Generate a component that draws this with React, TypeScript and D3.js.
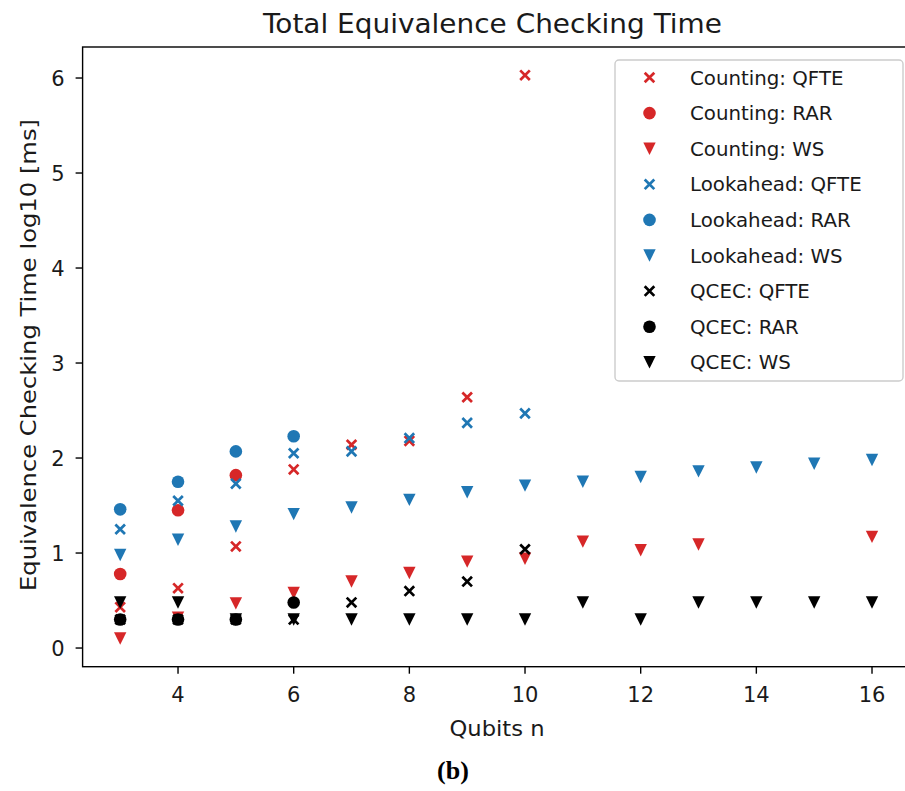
import React from "react";
import * as d3 from "d3";

// ---- data (log10 of ms) ----
const countingQFTE_n = [3, 4, 5, 6, 7, 8, 9, 10];
const countingQFTE = [0.43, 0.63, 1.07, 1.88, 2.14, 2.18, 2.64, 6.03];
const countingRAR_n = [3, 4, 5];
const countingRAR = [0.78, 1.45, 1.82];
const countingWS_n = [3, 4, 5, 6, 7, 8, 9, 10, 11, 12, 13, 16];
const countingWS = [0.1, 0.32, 0.47, 0.58, 0.7, 0.79, 0.91, 0.94, 1.12, 1.03, 1.09, 1.17];
const lookaheadQFTE_n = [3, 4, 5, 6, 7, 8, 9, 10];
const lookaheadQFTE = [1.25, 1.55, 1.73, 2.05, 2.07, 2.21, 2.37, 2.47];
const lookaheadRAR_n = [3, 4, 5, 6];
const lookaheadRAR = [1.46, 1.75, 2.07, 2.23];
const lookaheadWS_n = [3, 4, 5, 6, 7, 8, 9, 10, 11, 12, 13, 14, 15, 16];
const lookaheadWS = [0.98, 1.14, 1.28, 1.41, 1.48, 1.56, 1.64, 1.71, 1.75, 1.8, 1.86, 1.9, 1.94, 1.98];
const qcecQFTE_n = [3, 4, 5, 6, 7, 8, 9, 10];
const qcecQFTE = [0.3, 0.3, 0.3, 0.3, 0.48, 0.6, 0.7, 1.04];
const qcecRAR_n = [3, 4, 5, 6];
const qcecRAR = [0.3, 0.3, 0.3, 0.48];
const qcecWS_n = [3, 4, 5, 6, 7, 8, 9, 10, 11, 12, 13, 14, 15, 16];
const qcecWS = [0.48, 0.48, 0.3, 0.3, 0.3, 0.3, 0.3, 0.3, 0.48, 0.3, 0.48, 0.48, 0.48, 0.48];

const xTicks = [4, 6, 8, 10, 12, 14, 16];
const yTicks = [0, 1, 2, 3, 4, 5, 6];

const RED = "#d62728";
const BLUE = "#1f77b4";
const BLACK = "#000000";

type Shape = "x" | "o" | "v";
const series: { label: string; color: string; shape: Shape; ns: number[]; vs: number[] }[] = [
  { label: "Counting: QFTE", color: RED, shape: "x", ns: countingQFTE_n, vs: countingQFTE },
  { label: "Counting: RAR", color: RED, shape: "o", ns: countingRAR_n, vs: countingRAR },
  { label: "Counting: WS", color: RED, shape: "v", ns: countingWS_n, vs: countingWS },
  { label: "Lookahead: QFTE", color: BLUE, shape: "x", ns: lookaheadQFTE_n, vs: lookaheadQFTE },
  { label: "Lookahead: RAR", color: BLUE, shape: "o", ns: lookaheadRAR_n, vs: lookaheadRAR },
  { label: "Lookahead: WS", color: BLUE, shape: "v", ns: lookaheadWS_n, vs: lookaheadWS },
  { label: "QCEC: QFTE", color: BLACK, shape: "x", ns: qcecQFTE_n, vs: qcecQFTE },
  { label: "QCEC: RAR", color: BLACK, shape: "o", ns: qcecRAR_n, vs: qcecRAR },
  { label: "QCEC: WS", color: BLACK, shape: "v", ns: qcecWS_n, vs: qcecWS },
];

const W = 905;
const H = 791;
const L = 82.6;
const R = 909.6;
const T = 47;
const B = 666.7;

const FONT = "'DejaVu Sans', sans-serif";
const TXT = "#1a1a1a";

function Marker({ shape, color, x, y }: { shape: Shape; color: string; x: number; y: number }) {
  if (shape === "o") return <circle cx={x} cy={y} r={6.3} fill={color} />;
  if (shape === "x") {
    const s = 4.8;
    return (
      <path
        d={`M${x - s},${y - s}L${x + s},${y + s}M${x - s},${y + s}L${x + s},${y - s}`}
        stroke={color}
        strokeWidth={2.7}
        fill="none"
      />
    );
  }
  const h = 6.2;
  return <path d={`M${x - h},${y - h}L${x + h},${y - h}L${x},${y + h}Z`} fill={color} />;
}

export default function App() {
  const x = d3.scaleLinear().domain([2.35, 16.65]).range([L, R]);
  const y = d3.scaleLinear().domain([-0.1965, 6.3265]).range([B, T]);

  const legX = 615;
  const legY = 60;
  const rowH = 35.6;

  return (
    <svg
      width={W}
      height={H}
      style={{ position: "fixed", left: 0, top: 0, background: "#fff" }}
      fontFamily={FONT}
    >
      <rect x={0} y={0} width={W} height={H} fill="#fff" />
      <text
        x={492.5}
        y={33}
        textAnchor="middle"
        fontSize={27}
        fill={TXT}
        textLength={459}
        lengthAdjust="spacingAndGlyphs"
      >
        Total Equivalence Checking Time
      </text>

      {/* markers */}
      {series.map((s) =>
        s.ns.map((n, i) => (
          <Marker key={s.label + n} shape={s.shape} color={s.color} x={x(n)} y={y(s.vs[i])} />
        ))
      )}

      {/* axes frame */}
      <rect x={L} y={T} width={R - L} height={B - T} fill="none" stroke="#000" strokeWidth={1.4} />

      {/* x ticks */}
      {xTicks.map((t) => (
        <g key={"xt" + t}>
          <line x1={x(t)} x2={x(t)} y1={B} y2={B + 7} stroke="#000" strokeWidth={1.4} />
          <text x={x(t)} y={B + 35} textAnchor="middle" fontSize={21} fill={TXT}>
            {t}
          </text>
        </g>
      ))}
      {/* y ticks */}
      {yTicks.map((t) => (
        <g key={"yt" + t}>
          <line x1={L - 7} x2={L} y1={y(t)} y2={y(t)} stroke="#000" strokeWidth={1.4} />
          <text x={L - 18} y={y(t) + 7.8} textAnchor="end" fontSize={21} fill={TXT}>
            {t}
          </text>
        </g>
      ))}

      <text
        x={497}
        y={736}
        textAnchor="middle"
        fontSize={22}
        fill={TXT}
        textLength={95}
        lengthAdjust="spacingAndGlyphs"
      >
        Qubits n
      </text>
      <text
        transform={`translate(36,355) rotate(-90)`}
        textAnchor="middle"
        fontSize={22}
        fill={TXT}
        textLength={472}
        lengthAdjust="spacingAndGlyphs"
      >
        Equivalence Checking Time log10 [ms]
      </text>

      {/* legend */}
      <rect
        x={legX}
        y={legY}
        width={288}
        height={321}
        rx={4}
        fill="#fff"
        fillOpacity={0.8}
        stroke="#cccccc"
        strokeWidth={1.4}
      />
      {series.map((s, i) => {
        const cy = legY + 17.5 + i * rowH;
        return (
          <g key={"leg" + s.label}>
            <Marker shape={s.shape} color={s.color} x={649.5} y={cy} />
            <text x={690} y={cy + 7} fontSize={19.8} fill={TXT}>
              {s.label}
            </text>
          </g>
        );
      })}

      <text
        x={453}
        y={779}
        textAnchor="middle"
        fontSize={26}
        fontWeight="bold"
        fontFamily="'Liberation Serif', 'DejaVu Serif', serif"
        fill="#000"
      >
        (b)
      </text>
    </svg>
  );
}
